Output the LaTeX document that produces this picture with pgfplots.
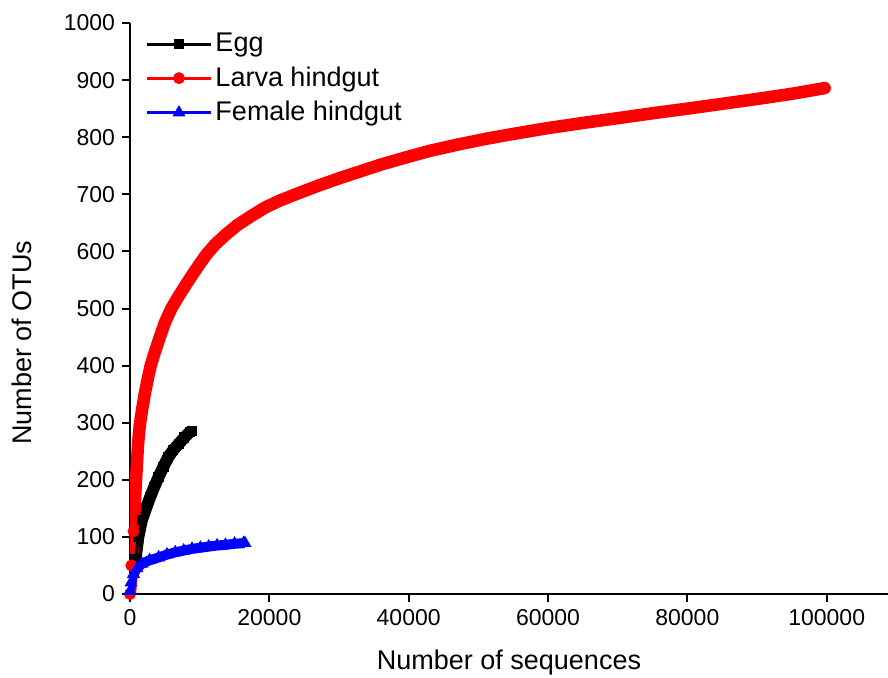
\documentclass[border=0pt]{standalone}
\usepackage{pgfplots}
\pgfplotsset{compat=1.18}
\usepackage{pgfplotstable}
\usepackage{fontspec}
\setmainfont{Liberation Sans}

% rarefaction data
\pgfplotstableread{
x y
800 62
1200 100
1700 129
2300 150
2900 170
3500 188
4100 205
4800 223
5500 240
6200 252
7000 263
7800 274
8600 284
8900 286
}\egg

\pgfplotstableread{
x y
0 0
200 50
500 110
800 185
1150 262
1400 295
1750 324
2100 349
2500 374
2970 400
3600 425
4260 449
5000 475
5930 500
7000 522
8040 542
9000 560
10000 578
11000 595
12200 612
13800 630
15400 646
17400 662
19400 677
21500 689
24400 703
27000 715
30000 728
33000 740
36000 752
39700 765
43000 776
47000 787
51000 797
55100 806
60000 816
65000 825
70400 834
75000 842
80000 850
85900 860
90000 867
95000 876
99700 886
}\larva

\pgfplotstableread{
x y
0 5
150 20
500 35
1000 45
1700 53
2800 59
4100 64
5300 69
6500 73
7700 76
8900 79
10100 81
11300 83
12500 85
13700 86
15000 88
16300 89
16500 89
}\female

\begin{document}
\begin{tikzpicture}
\begin{axis}[
  scale only axis,
  width=379pt, height=285.5pt,
  xmin=0, xmax=108800,
  ymin=0, ymax=1000,
  axis x line*=bottom,
  axis y line*=left,
  axis line style={line width=1pt},
  tick align=outside,
  major tick length=4pt,
  tick style={line width=1pt, black},
  scaled x ticks=false,
  scaled y ticks=false,
  xtick={0,20000,40000,60000,80000,100000},
  xticklabels={0,20000,40000,60000,80000,100000},
  ytick={0,100,200,300,400,500,600,700,800,900,1000},
  yticklabels={0,100,200,300,400,500,600,700,800,900,1000},
  tick label style={font=\fontsize{11.5}{13}\selectfont},
  label style={font=\fontsize{13.5}{16}\selectfont},
  xlabel={Number of sequences},
  ylabel={Number of OTUs},
  xlabel style={yshift=-5.5pt},
  ylabel style={at={(ticklabel cs:0.44,9pt)}},
  legend style={at={(0.012,0.995)}, anchor=north west, draw=none, fill=none,
    font=\fontsize{13.5}{16}\selectfont, row sep=3pt,
    nodes={inner sep=1.5pt}},
  legend cell align=left,
  legend image code/.code={
    \draw[mark repeat=2, mark phase=2, #1]
      plot coordinates {(0pt,0pt) (16pt,0pt) (32pt,0pt)};},
]
% thick bands made of the densely packed markers
\addplot[black, line width=6pt, line join=round, forget plot] table {\egg};
\addplot[red, line width=6.25pt, line cap=round, line join=round, forget plot] table {\larva};
\addplot[blue, line width=5pt, line join=round, forget plot] table {\female};

\addplot[black, line width=1.5pt, mark=square*, mark size=1.8pt] table {\egg};
\addplot[red, line width=1.5pt, mark=*, mark size=2.2pt] table {\larva};
\addplot[blue, line width=1.5pt, mark=triangle*, mark size=2.3pt] table {\female};
\legend{Egg, Larva hindgut, Female hindgut}
\end{axis}
\pgfresetboundingbox
\path[use as bounding box] ([shift={(-65pt,-41.5pt)}]current axis.south west) rectangle ++(444pt,338.5pt);
\end{tikzpicture}
\end{document}
